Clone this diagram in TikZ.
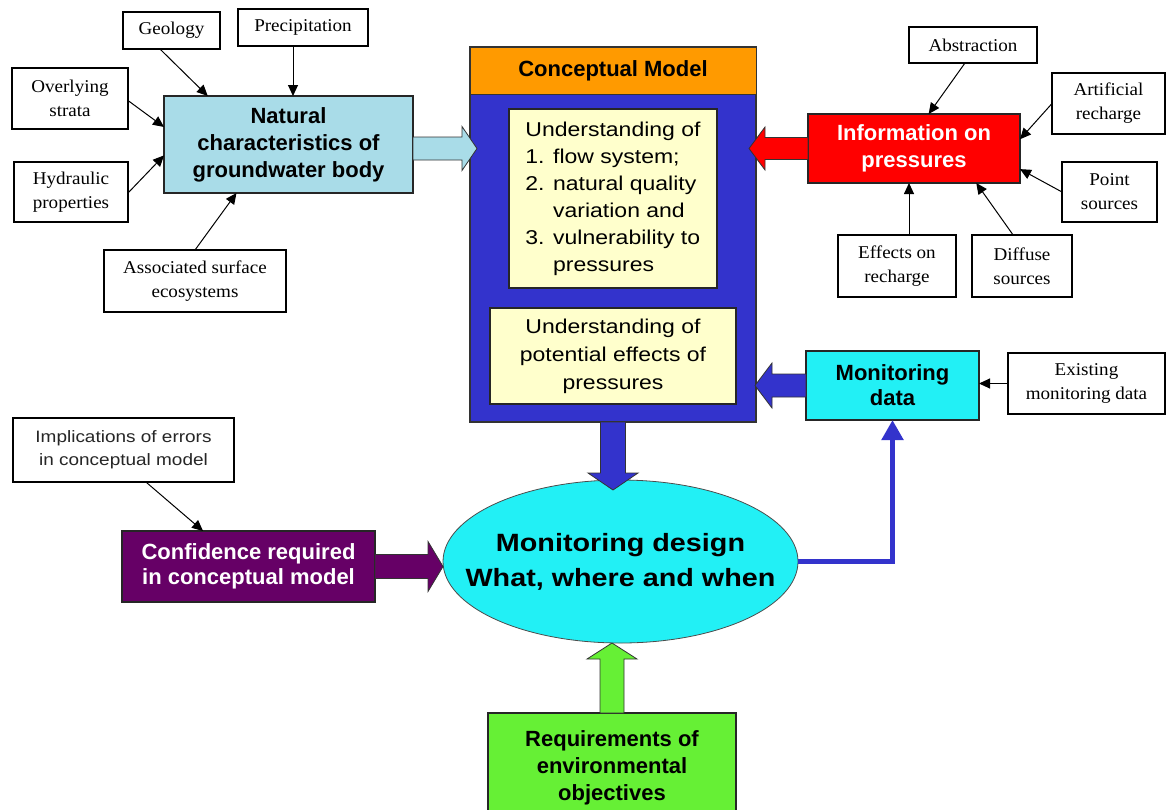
\documentclass[tikz,border=0pt]{standalone}
\usepackage{fontspec}
\setmainfont{Liberation Serif}[FakeStretch=1.06]
\setsansfont{Liberation Sans}
\newfontfamily\widesans{Liberation Sans}[FakeStretch=1.15]
\usetikzlibrary{calc,shapes.geometric,arrows.meta}

\definecolor{cmblue}{HTML}{3333CC}
\definecolor{cmorange}{HTML}{FF9A00}
\definecolor{paleyellow}{HTML}{FFFFCC}
\definecolor{waterblue}{HTML}{A9DCE8}
\definecolor{monicyan}{HTML}{22F0F5}
\definecolor{confpurple}{HTML}{660066}
\definecolor{reqgreen}{HTML}{66F035}

% block arrow: style, from, to, half body, half head, head length
\newcommand\blockarrow[6]{%
  \coordinate (ba) at ($(#3)!#6!(#2)$);
  \filldraw [#1] ($(#2)!#4!90:(#3)$) -- ($(ba)!#4!90:(#3)$) -- ($(ba)!#5!90:(#3)$) -- (#3)
    -- ($(ba)!#5!-90:(#3)$) -- ($(ba)!#4!-90:(#3)$) -- ($(#2)!#4!-90:(#3)$) -- cycle;}

\begin{document}
\begin{tikzpicture}[x=1pt,y=-1pt,every node/.style={outer sep=0pt,inner sep=0pt,align=center}]
\tikzstyle{factor}=[draw,line width=2pt,fill=white,font=\fontsize{18}{24}\selectfont]
\tikzstyle{key}=[draw=black!85,line width=2pt,font=\sffamily\bfseries\fontsize{22}{27}\selectfont]
\tikzstyle{feed}=[line width=1pt,-{Triangle[length=11pt,width=10pt]}]
\tikzstyle{fat}=[draw=black!80,line width=0.8pt]

\useasboundingbox (0,0) rectangle (1166,809);

% natural characteristics
\node (nat) [key,fill=waterblue,minimum width=249pt,minimum height=97pt] at (288.5,144.5) {Natural\\characteristics of\\groundwater body};
\node (geo) [factor,minimum width=97pt,minimum height=37pt] at (171.5,30.5) {Geology};
\node (prec) [factor,minimum width=130pt,minimum height=37pt] at (303,27.5) {Precipitation};
\node (over) [factor,minimum width=116pt,minimum height=61pt] at (70,98.5) {Overlying\\strata};
\node (hyd) [factor,minimum width=114pt,minimum height=60pt] at (71,192) {Hydraulic\\properties};
\node (assoc) [factor,minimum width=182pt,minimum height=62pt] at (195,281) {Associated surface\\ecosystems};

\draw [feed] (geo.238) -- (nat.149);
\draw [feed] ($(prec.south)+(-10,0)$) -- ($(prec.south |- nat.north)+(-10,0)$);
\draw [feed] (over.358.5) -- (nat.172.5);
\draw [feed] (hyd.359) -- (nat.185.7);
\draw [feed] (assoc.north) -- (nat.223.3);

% conceptual model
\node (cm) [draw=black!80,line width=1.5pt,fill=cmblue,minimum width=286pt,minimum height=375pt] at (613,234.5) {};
\node (cmhead) [draw=black!80,line width=1pt,fill=cmorange,minimum width=286pt,minimum height=47pt,anchor=north,font=\sffamily\bfseries\fontsize{22}{26}\selectfont] at (cm.north) {Conceptual Model};
\node (flow) [draw=black!85,line width=2pt,fill=paleyellow,minimum width=208pt,minimum height=179pt,align=left,font=\widesans\fontsize{20}{27}\selectfont] at (613,198.5) {Understanding of\\1. flow system;\\2. natural quality\\\phantom{2. }variation and\\3. vulnerability to\\\phantom{3. }pressures};
\node (effects) [draw=black!85,line width=2pt,fill=paleyellow,minimum width=246pt,minimum height=96pt,font=\widesans\fontsize{20}{28}\selectfont] at (613,356) {Understanding of\\potential effects of\\pressures};

% pressures
\node (info) [key,fill=red,text=white,minimum width=212pt,minimum height=69pt] at (914,148.5) {Information on\\pressures};
\node (abs) [factor,minimum width=128pt,minimum height=36pt] at (973,45) {Abstraction};
\node (art) [factor,minimum width=113pt,minimum height=61pt] at (1108.5,103.5) {Artificial\\recharge};
\node (pts) [factor,minimum width=95pt,minimum height=60pt] at (1109.5,192) {Point\\sources};
\node (rech) [factor,minimum width=118pt,minimum height=62pt] at (897,266) {Effects on\\recharge};
\node (diff) [factor,minimum width=100pt,minimum height=62pt] at (1022,266) {Diffuse\\sources};

\draw [feed] (abs.246) -- (info.67.9);
\draw [feed] (art.west) -- (info.5.6);
\draw [feed] (pts.west) -- (info.349.8);
\draw [feed] ($(rech.north)+(12,0)$) -- ($(rech.north |- info.south)+(12,0)$);
\draw [feed] (diff.106.2) -- (info.331.3);

% monitoring data
\node (mdat) [key,fill=monicyan,minimum width=173pt,minimum height=69pt,font=\sffamily\bfseries\fontsize{22}{25}\selectfont] at (892.5,385.5) {Monitoring\\data};
\node (exist) [factor,minimum width=157pt,minimum height=61pt] at (1086.5,383.5) {Existing\\monitoring data};
\draw [feed] (exist.west) -- (exist.west -| mdat.east);

% design
\node (impl) [factor,text=black!85,minimum width=221pt,minimum height=64pt,font=\widesans\fontsize{16.5}{23}\selectfont] at (123.5,450) {Implications of errors\\in conceptual model};
\node (conf) [key,fill=confpurple,text=white,minimum width=253pt,minimum height=71pt,font=\sffamily\bfseries\fontsize{22}{25}\selectfont] at (248.5,566.5) {Confidence required\\in conceptual model};
\node (design) [ellipse,draw=black!70,line width=0.8pt,fill=monicyan,minimum width=355pt,minimum height=163pt] at (620.5,561.5) {};
\node (designtxt) [font=\widesans\bfseries\fontsize{25}{35}\selectfont] at (design) {Monitoring design\\What, where and when};
\node (req) [key,fill=reqgreen,minimum width=248pt,minimum height=110pt,anchor=north] at (612,713) {Requirements of\\environmental\\objectives};

\draw [feed] (impl.305.5) -- (conf.142);
\draw [cmblue,line width=5pt,-{Triangle[length=20pt,width=21pt]}] (design.east) -| (mdat.south);

% block arrows
\coordinate (natout) at ($(nat.east)+(0,4)$);
\coordinate (natin) at ($(cm.west |- natout)+(7,0)$);
\blockarrow{fat,fill=waterblue}{natout}{natin}{11.5pt}{22pt}{15pt}
\coordinate (infoin) at ($(cm.east |- info.west)+(-7,0)$);
\blockarrow{fat,fill=red}{info.west}{infoin}{11pt}{21.5pt}{16pt}
\coordinate (mdatin) at ($(cm.east |- mdat.west)+(-1,0)$);
\blockarrow{fat,fill=cmblue}{mdat.west}{mdatin}{11.5pt}{22.5pt}{17pt}
\coordinate (cmout) at ($(cm.south |- design.north)+(0,10)$);
\blockarrow{fat,fill=cmblue}{cm.south}{cmout}{12.5pt}{25pt}{17pt}
\coordinate (confin) at (conf.east -| design.west);
\blockarrow{fat,fill=confpurple}{conf.east}{confin}{12pt}{25pt}{15pt}
\coordinate (reqin) at (req.north |- design.south);
\blockarrow{fat,fill=reqgreen}{req.north}{reqin}{12pt}{25pt}{16pt}
\end{tikzpicture}
\end{document}
